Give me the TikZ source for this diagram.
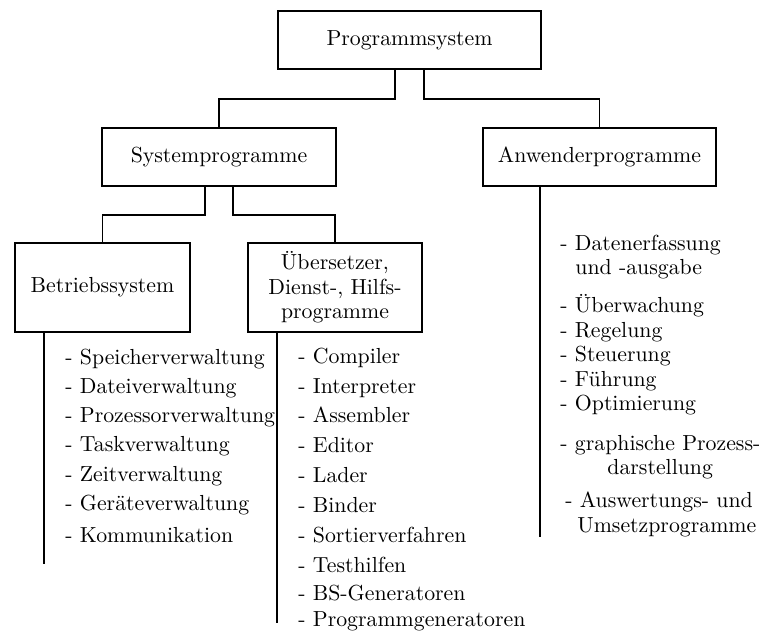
\documentclass[tikz,border=0pt]{standalone}
\begin{document}
\begin{tikzpicture}[x=0.5pt,y=-0.5pt,
  every node/.style={font=\fontsize{10.9}{12.3}\selectfont},
  box/.style={draw,line width=0.75pt,inner sep=0pt,align=center},
  item/.style={anchor=base west,inner sep=0pt},
  conn/.style={line width=0.75pt}]
\useasboundingbox (0,0) rectangle (762,633);
% boxes
\node[box,minimum width=263*0.5pt,minimum height=58*0.5pt] (ps) at (409.5,40) {Programmsystem};
\node[box,minimum width=234*0.5pt,minimum height=58*0.5pt] (sp) at (219,157) {Systemprogramme};
\node[box,minimum width=233*0.5pt,minimum height=58*0.5pt] (ap) at (599.5,157) {Anwenderprogramme};
\node[box,minimum width=175*0.5pt,minimum height=89*0.5pt] (bs) at (102.5,287.5) {Betriebssystem};
\node[box,minimum width=174*0.5pt,minimum height=89*0.5pt] (ue) at (335,287.5) {Übersetzer,\\Dienst-, Hilfs-\\programme};
% connectors
\draw[conn] ([xshift=-7.25pt]ps.south) -- ++(0,29) -| (sp.north);
\draw[conn] ([xshift=7.25pt]ps.south) -- ++(0,29) -| (ap.north);
\draw[conn] ([xshift=-7pt]sp.south) -- ++(0,28) -| (bs.north);
\draw[conn] ([xshift=7pt]sp.south) -- ++(0,28) -| (ue.north);
\coordinate (bsend) at (44,564);
\coordinate (ueend) at (277,623);
\coordinate (apend) at (540,537);
\draw[conn] (bs.south -| bsend) -- (bsend);
\draw[conn] (ue.south -| ueend) -- (ueend);
\draw[conn] (ap.south -| apend) -- (apend);
% left list
\node[item] (l1) at (65,364) {- Speicherverwaltung};
\node[item] (l2) at (65,393) {- Dateiverwaltung};
\node[item] (l3) at (65,422) {- Prozessorverwaltung};
\node[item] (l4) at (65,451) {- Taskverwaltung};
\node[item] (l5) at (65,481) {- Zeitverwaltung};
\node[item] (l6) at (65,510) {- Geräteverwaltung};
\node[item] (l7) at (65,542) {- Kommunikation};
% middle list
\node[item] (m1) at (298,363) {- Compiler};
\node[item] (m2) at (298,393) {- Interpreter};
\node[item] (m3) at (298,422) {- Assembler};
\node[item] (m4) at (298,452) {- Editor};
\node[item] (m5) at (298,482) {- Lader};
\node[item] (m6) at (298,512) {- Binder};
\node[item] (m7) at (298,542) {- Sortierverfahren};
\node[item] (m8) at (298,572) {- Testhilfen};
\node[item] (m9) at (298,600) {- BS-Generatoren};
\node[item] (m10) at (298,626) {- Programmgeneratoren};
% right list
\node[item] (r1) at (560,250) {- Datenerfassung};
\node[item] (r1b) at (575,274.5) {und -ausgabe};
\node[item] (r2) at (560,312.5) {- Überwachung};
\node[item] (r3) at (560,337) {- Regelung};
\node[item] (r4) at (560,361.5) {- Steuerung};
\node[item] (r5) at (560,386) {- Führung};
\node[item] (r6) at (560,410.5) {- Optimierung};
\node[item] (r7) at (560,450) {- graphische Prozess-};
\node[item] (r7b) at (607,474.5) {darstellung};
\node[item] (r8) at (565,507.5) {- Auswertungs- und};
\node[item] (r8b) at (577,532) {Umsetzprogramme};
\end{tikzpicture}
\end{document}
